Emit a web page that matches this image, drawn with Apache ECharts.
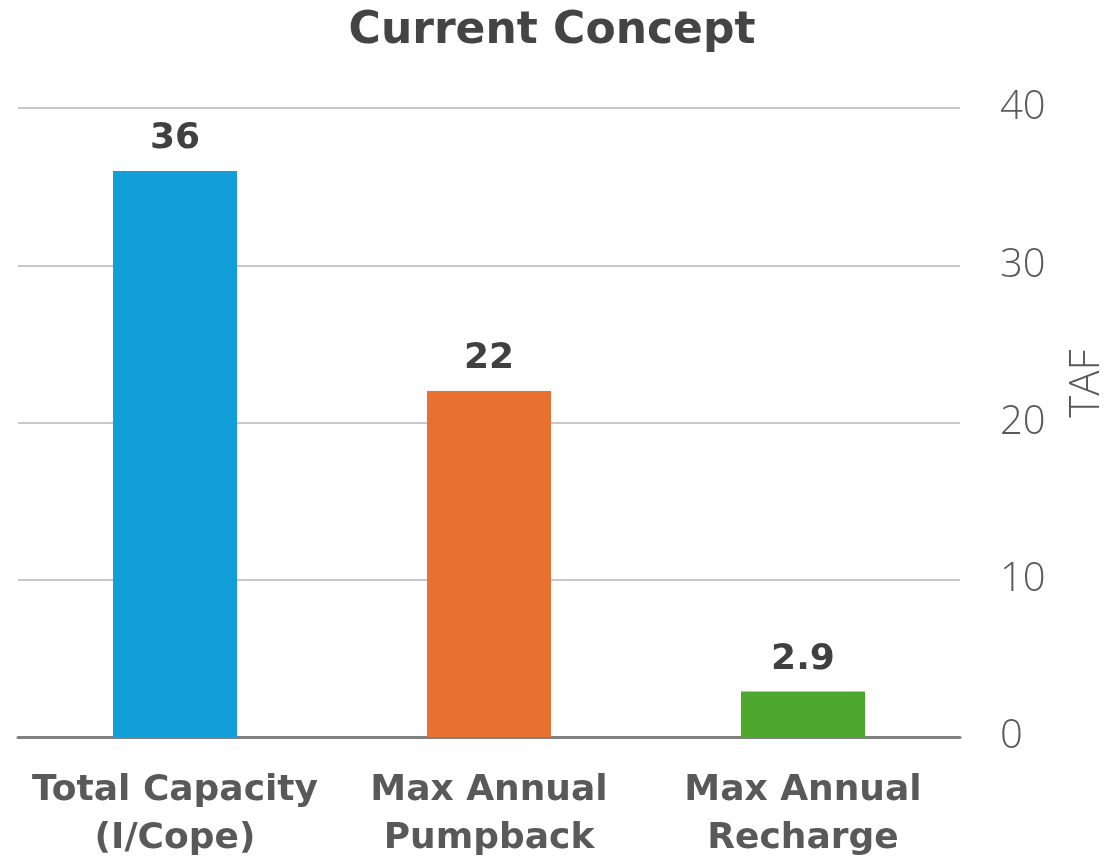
<!DOCTYPE html>
<html>
<head>
<meta charset="utf-8">
<title>Current Concept</title>
<script src="https://cdn.jsdelivr.net/npm/echarts@6/dist/echarts.min.js"></script>
<style>
  html, body { margin: 0; padding: 0; background: #fff; }
  #main { width: 1104px; height: 861px; }
</style>
</head>
<body>
<div id="main"></div>
<script>
// chart data
var categories = ['Total Capacity\n(I/Cope)', 'Max Annual\nPumpback', 'Max Annual\nRecharge'];
var values = [36, 22, 2.9];
var barColors = ['#129FD8', '#E87132', '#4EA72E'];

var chart = echarts.init(document.getElementById('main'));

var option = {
  backgroundColor: '#fff',
  animation: false,
  title: {
    text: 'Current Concept',
    left: 'center',
    top: 5,
    textStyle: {
      fontFamily: 'DejaVu Sans',
      fontSize: 44,
      fontWeight: 'bold',
      color: '#444'
    }
  },
  grid: {
    left: 18,
    right: 144,
    top: 108,
    bottom: 124,
    outerBoundsMode: 'none'
  },
  xAxis: {
    type: 'category',
    data: categories,
    axisTick: { show: false },
    axisLine: { lineStyle: { color: '#808080', width: 3 } },
    axisLabel: {
      margin: 30,
      fontFamily: 'DejaVu Sans',
      fontSize: 36,
      fontWeight: 'bold',
      color: '#595959',
      lineHeight: 48,
      interval: 0
    }
  },
  yAxis: {
    type: 'value',
    position: 'right',
    min: 0,
    max: 40,
    interval: 10,
    name: 'TAF',
    nameLocation: 'middle',
    nameRotate: 90,
    nameGap: 106,
    nameTextStyle: {
      fontFamily: 'Open Sans',
      fontWeight: 300,
      fontSize: 42,
      color: '#595959',
      padding: [0, 0, 0, 78]
    },
    axisLine: { show: false },
    axisTick: { show: false },
    axisLabel: {
      margin: 40,
      fontFamily: 'Open Sans',
      fontWeight: 300,
      fontSize: 40,
      color: '#595959'
    },
    splitLine: { lineStyle: { color: '#c8c8c8', width: 2 } }
  },
  series: [{
    type: 'bar',
    barWidth: 124,
    data: values.map(function (v, i) {
      return { value: v, itemStyle: { color: barColors[i] } };
    }),
    label: {
      show: true,
      position: 'top',
      distance: 14,
      fontFamily: 'DejaVu Sans',
      fontSize: 36,
      fontWeight: 'bold',
      color: '#404040'
    }
  }]
};

chart.setOption(option);
</script>
</body>
</html>
